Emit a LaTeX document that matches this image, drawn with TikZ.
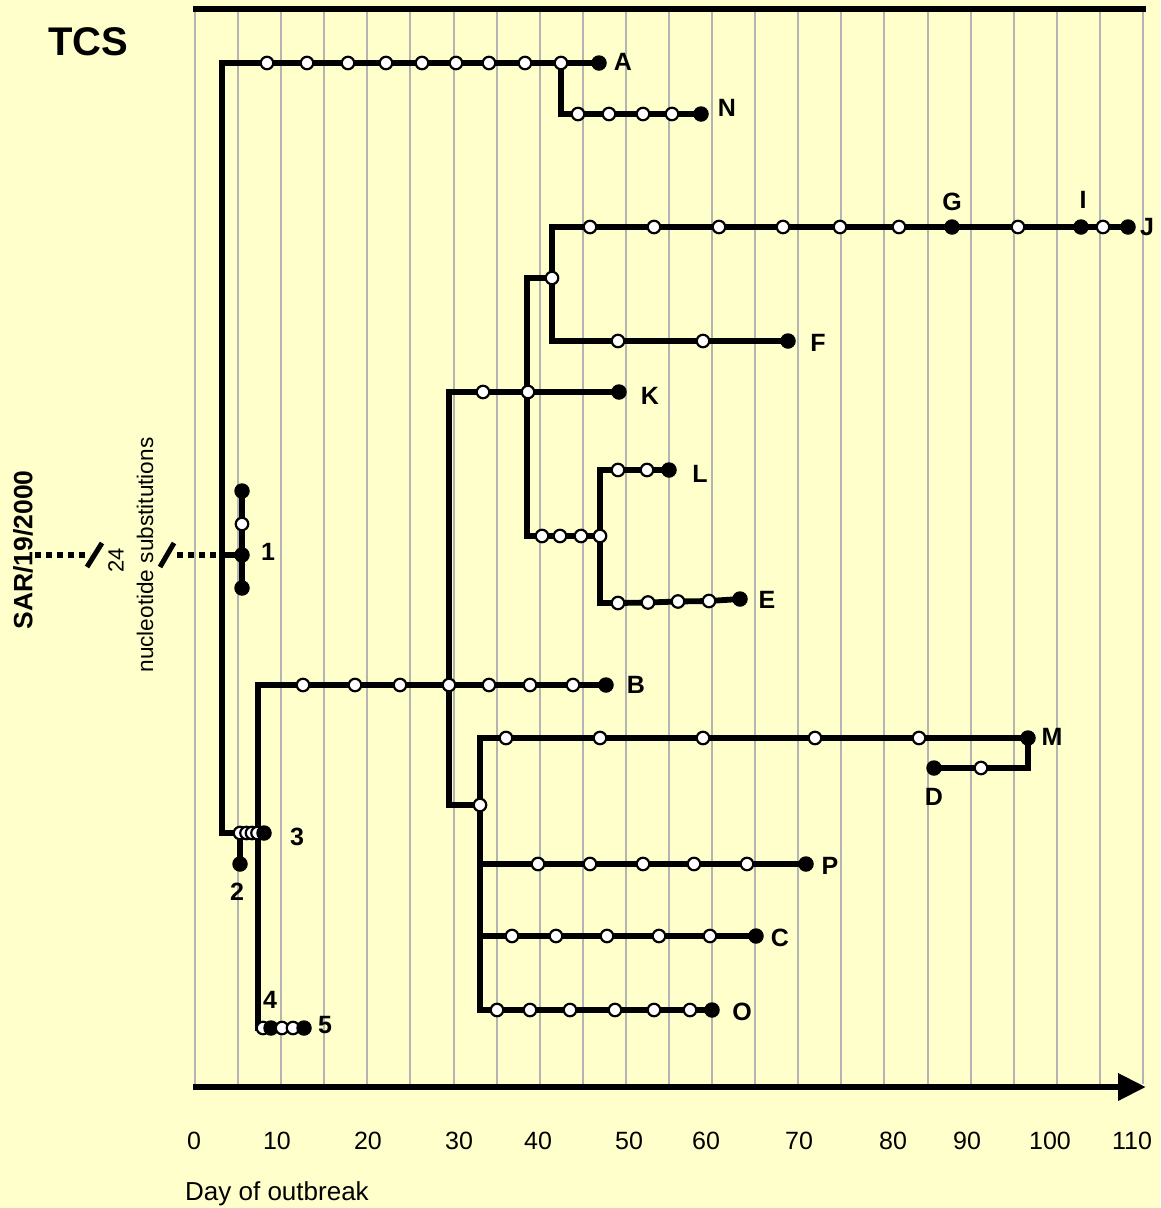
\documentclass[tikz,border=0pt]{standalone}
\usepackage{fontspec}
\setmainfont{Liberation Sans}
\usetikzlibrary{arrows.meta}
\definecolor{paper}{HTML}{FFFFCC}
\definecolor{rule}{HTML}{B4B4B4}
\pgfdeclarelayer{back}
\pgfdeclarelayer{lines}
\pgfsetlayers{back,lines,main}

\begin{document}
\begin{tikzpicture}[x=1pt,y=-1pt,
  open/.style={circle,draw=black,fill=white,line width=2.2pt,inner sep=0pt,minimum size=12.5pt},
  full/.style={circle,fill=black,inner sep=0pt,minimum size=15.5pt},
  branch/.style={line width=5.8pt,line join=miter},
  cut/.style={line width=6pt,dash pattern=on 6pt off 5pt},
  lab/.style={font=\fontsize{25}{25}\selectfont\bfseries,inner sep=0pt},
  tick/.style={font=\fontsize{25}{25}\selectfont,inner sep=0pt}
]
\useasboundingbox (0,0) rectangle (1160,1208);

\begin{pgfonlayer}{back}
\fill[paper] (0,0) rectangle (1160,1208);
\foreach \k in {0,...,22}
  \draw[rule,line width=2pt] ({195+43.09*\k},12) -- ({195+43.09*\k},1084);
\end{pgfonlayer}

% frame line and time axis
\coordinate (frameL) at (193,9);
\coordinate (frameR) at (1146,9);
\coordinate (axisL) at (193,1087);
\coordinate (axisR) at (1146,1087);
\draw[line width=6.5pt] (frameL) -- (frameR);
\draw[line width=6.5pt,-{Triangle[length=28pt,width=26pt]}] (axisL) -- (axisR);
\foreach \x/\t in {194/0,277/10,368/20,459/30,538/40,629/50,706/60,799/70,893/80,967/90,1050/100,1132/110}
  \node[tick] (t\t) at (\x,1141) {\t};
\node[font=\fontsize{26}{26}\selectfont,inner sep=0pt,anchor=west] (xlab) at (185,1194) {Day of outbreak};

\node[font=\fontsize{40}{40}\selectfont\bfseries,inner sep=0pt] (tcs) at (88,42) {TCS};
\node[font=\fontsize{26.5}{26.5}\selectfont\bfseries,inner sep=0pt,rotate=90] (sar) at (23,550) {SAR/19/2000};
\node[font=\fontsize{22}{22}\selectfont,inner sep=0pt,rotate=90] (n24) at (116,560) {24};
\node[font=\fontsize{22.6}{22.6}\selectfont,inner sep=0pt,rotate=90] (nsub) at (145,555) {nucleotide substitutions};

% row A and N
\foreach \x [count=\i] in {267,307,348,386,422,456,489,525,561}
  \node[open] (a\i) at (\x,63) {};
\node[full] (A) at (599,63) {};
\foreach \x [count=\i] in {578,609,643,672}
  \node[open] (nn\i) at (\x,114) {};
\node[full] (N) at (701,114) {};

% node 1
\node[full] (u1) at (242,491) {};
\node[open] (u2) at (242,524) {};
\node[full] (n1) at (242,555) {};
\node[full] (u4) at (242,588) {};

% nodes 2 and 3
\foreach \x [count=\i] in {240,246.5,252,257.5}
  \node[open] (r\i) at (\x,833) {};
\node[full] (n3) at (264,833) {};
\node[full] (n2) at (240,864) {};

% nodes 4 and 5
\node[open] (q1) at (263,1028) {};
\node[full] (n4) at (271,1028) {};
\node[open] (q2) at (282,1028) {};
\node[open] (q3) at (293,1028) {};
\node[full] (n5) at (304,1028) {};

% row B
\foreach \x [count=\i] in {303,355,400,449,489,530,573}
  \node[open] (b\i) at (\x,685) {};
\node[full] (B) at (606,685) {};

% row K
\foreach \x [count=\i] in {483,528}
  \node[open] (k\i) at (\x,392) {};
\node[full] (K) at (619,392) {};

% rows G-J and F
\node[open] (f0) at (552,278) {};
\foreach \x [count=\i] in {590,654,719,783,840,899}
  \node[open] (g\i) at (\x,227) {};
\node[full] (G) at (952,227) {};
\node[open] (g7) at (1018,227) {};
\node[full] (I) at (1081,227) {};
\node[open] (g8) at (1103,227) {};
\node[full] (J) at (1128,227) {};
\foreach \x [count=\i] in {618,703}
  \node[open] (ff\i) at (\x,341) {};
\node[full] (F) at (788,341) {};

% rows L and E
\foreach \x [count=\i] in {542,560,581}
  \node[open] (le\i) at (\x,536) {};
\node[open] (e0) at (600,536) {};
\foreach \x [count=\i] in {618,647}
  \node[open] (l\i) at (\x,470) {};
\node[full] (L) at (669,470) {};
\node[open] (e1) at (618,603) {};
\node[open] (e2) at (648,602.5) {};
\node[open] (e3) at (678,601.5) {};
\node[open] (e4) at (709,601) {};
\node[full] (E) at (740,599) {};

% rows M, D, P, C, O
\node[open] (s1) at (480,805) {};
\foreach \x [count=\i] in {506,600,703,815,919}
  \node[open] (m\i) at (\x,738) {};
\node[full] (M) at (1028,738) {};
\node[open] (d1) at (981,768) {};
\node[full] (D) at (934,768) {};
\foreach \x [count=\i] in {538,590,643,694,747}
  \node[open] (p\i) at (\x,864) {};
\node[full] (P) at (806,864) {};
\foreach \x [count=\i] in {512,556,607,659,710}
  \node[open] (c\i) at (\x,936) {};
\node[full] (C) at (756,936) {};
\foreach \x [count=\i] in {497,530,570,615,654,690}
  \node[open] (o\i) at (\x,1010) {};
\node[full] (O) at (712,1010) {};

% labels
\foreach \x/\y/\t in {623/62/A,727/108/N,952/202/G,1083/200/I,1147/227/J,818/343/F,650/396/K,700/474/L,767/600/E,636/685/B,1052/737/M,934/797/D,830/866/P,780/938/C,742/1012/O,268/552/1,237/892/2,297/837/3,270/1000/4,325/1025/5}
  \node[lab] (lab\t) at (\x,\y) {\t};

% branches
\coordinate (trunkTop) at (222,63);
\coordinate (join1) at (222,555);
\coordinate (sarEnd) at (35,555);
\coordinate (cutL) at (90,555);
\coordinate (cutR) at (177,555);
\coordinate (bCorner) at (258,685);
\coordinate (kCorner) at (449,392);
\coordinate (gStub) at (527,278);
\coordinate (jCorner) at (552,227);
\coordinate (eCorner) at (600,603);
\coordinate (mCorner) at (480,738);
\coordinate (pJoin) at (480,864);
\coordinate (cJoin) at (480,936);
\begin{pgfonlayer}{lines}
\draw[branch] (A.center) -- (trunkTop) |- (n3.center);
\draw[branch] (a9.center) |- (N.center);
\draw[branch] (join1) -- (n1.center);
\draw[branch] (u1.center) -- (u4.center);
\draw[cut] (sarEnd) -- (cutL);
\draw[cut] (cutR) -- (join1);
\draw[line width=5pt] (87,567) -- (102,543);
\draw[line width=5pt] (160,567) -- (174,543);
\draw[branch] (r1.center) -- (n2.center);
\draw[branch] (B.center) -- (bCorner) |- (n5.center);
\draw[branch] (K.center) -- (kCorner) |- (s1.center);
\draw[branch] (J.center) -- (jCorner) |- (F.center);
\draw[branch] (f0.center) -- (gStub) |- (e0.center);
\draw[branch] (L.center) -| (eCorner) -- (e1.center) -- (e2.center) -- (e3.center) -- (e4.center) -- (E.center);
\draw[branch] (M.center) -- (mCorner) |- (O.center);
\draw[branch] (M.center) |- (D.center);
\draw[branch] (pJoin) -- (P.center);
\draw[branch] (cJoin) -- (C.center);
\end{pgfonlayer}
\end{tikzpicture}
\end{document}
